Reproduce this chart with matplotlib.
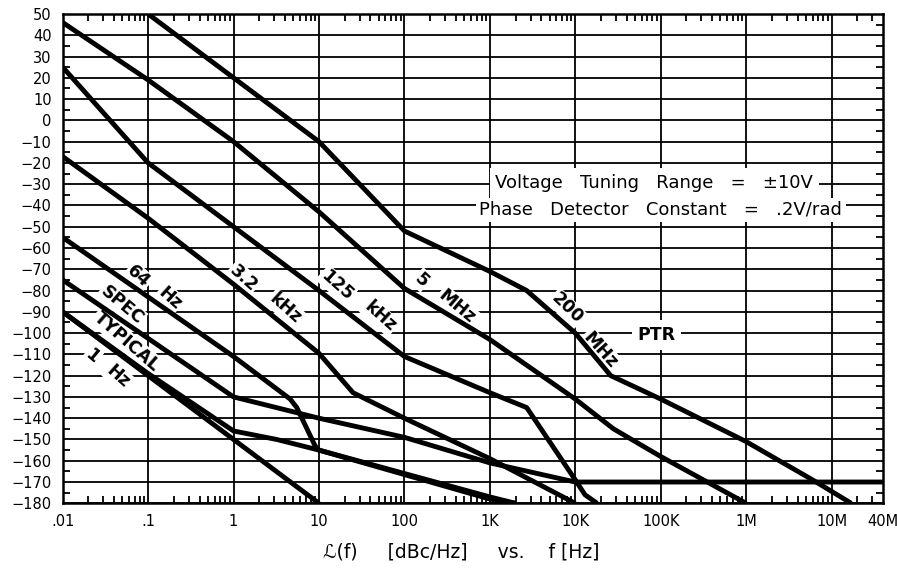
import numpy as np
import matplotlib.pyplot as plt
from matplotlib.ticker import FixedLocator, NullFormatter

# frequency offsets [Hz] and L(f) [dBc/Hz]
f_200m = [0.1, 10, 100, 1e3, 2.7e3, 1e4, 2.6e4, 1e5, 1e6, 6e6, 1.7e7]
L_200m = [50, -10, -52, -71, -80, -100, -120, -131, -151, -169, -180]

f_5m = [0.01, 0.1, 1, 10, 100, 1e3, 1e4, 2.8e4, 1e5, 1e6]
L_5m = [46, 19, -10, -43, -79, -103, -131, -145, -158, -180]

f_125k = [0.01, 0.1, 1, 10, 100, 1e3, 2.7e3, 1e4, 1.3e4, 1.8e4]
L_125k = [25, -20, -50, -80, -111, -128, -135, -169, -176, -180]

f_3k2 = [0.01, 0.1, 1, 10, 25, 100, 1e3, 1e4]
L_3k2 = [-17, -46, -77, -109.5, -128, -140, -159, -180]

f_64 = [0.01, 0.1, 1, 4.6, 5.5, 9, 10, 100, 1e3, 2e3]
L_64 = [-55, -83, -111, -131, -135, -153, -155, -166, -177, -180]

f_spec = [0.01, 1, 10, 100, 1e3, 1e4, 4e7]
L_spec = [-75, -130, -140, -149, -161, -170, -170]

f_typ = [0.01, 0.1, 1, 3.2, 10, 100, 1e3, 2e3]
L_typ = [-90, -119, -146, -150, -155, -166.5, -178, -180]

f_1hz = [0.01, 10]
L_1hz = [-90, -180]

x_ticks = [0.01, 0.1, 1, 10, 100, 1e3, 1e4, 1e5, 1e6, 1e7, 4e7]
x_labels = ['.01', '.1', '1', '10', '100', '1K', '10K', '100K', '1M', '10M', '40M']
y_ticks = list(range(-180, 51, 10))

plt.rcParams['font.family'] = 'DejaVu Sans'

fig = plt.figure(figsize=(8.97, 5.69), dpi=100)
ax = fig.add_axes([62.7 / 897, 1 - 503.3 / 569, (883 - 62.7) / 897, (503.3 - 14) / 569])

ax.set_xscale('log')
ax.set_xlim(0.01, 4e7)
ax.set_ylim(-180, 50)

# grid at decades and every 10 dB
for x in x_ticks[:-1]:
    ax.axvline(x, color='black', lw=1.3, zorder=1)
for y in y_ticks:
    ax.axhline(y, color='black', lw=1.3, zorder=1)

curves = [(f_200m, L_200m), (f_5m, L_5m), (f_125k, L_125k), (f_3k2, L_3k2),
          (f_64, L_64), (f_spec, L_spec), (f_typ, L_typ), (f_1hz, L_1hz)]
for f, L in curves:
    ax.plot(f, L, color='black', lw=3.5, solid_capstyle='butt', zorder=4)

ax.xaxis.set_major_locator(FixedLocator(x_ticks))
ax.set_xticklabels(x_labels)
minor = [m * 10.0 ** d for d in range(-2, 8) for m in range(2, 10) if m * 10.0 ** d < 4e7]
ax.xaxis.set_minor_locator(FixedLocator(minor))
ax.xaxis.set_minor_formatter(NullFormatter())
ax.set_yticks(y_ticks)
ax.yaxis.set_minor_locator(FixedLocator(np.arange(-175, 50, 10)))

ax.tick_params(which='both', direction='in', top=True, right=True, width=1.3, colors='black')
ax.tick_params(which='major', length=0, labelsize=10.5, pad=8)
ax.tick_params(which='minor', length=5)
for s in ax.spines.values():
    s.set_linewidth(1.8)

box = dict(facecolor='white', edgecolor='none', pad=1.0)
lab = dict(fontsize=12.5, fontweight='bold', ha='center', va='center', zorder=3, bbox=box)

ax.text(0.0767, -73.5, '64', rotation=-42, **lab)
ax.text(0.18, -83.6, 'Hz', rotation=-42, **lab)
ax.text(0.049, -86.8, 'SPEC', rotation=-40, **lab)
ax.text(0.056, -104, 'TYPICAL', rotation=-41, **lab)
ax.text(0.0219, -111, '1', rotation=-40, **lab)
ax.text(0.0448, -120.5, 'Hz', rotation=-42, **lab)
ax.text(1.30, -74.2, '3.2', rotation=-42, **lab)
ax.text(4.0, -88.3, 'kHz', rotation=-42, **lab)
ax.text(16.1, -77.4, '125', rotation=-42, **lab)
ax.text(51.9, -92.3, 'kHz', rotation=-42, **lab)
ax.text(160, -75, '5', rotation=-42, **lab)
ax.text(411, -87.6, 'MHz', rotation=-40, **lab)
ax.text(7980, -88.3, '200', rotation=-44, **lab)
ax.text(19500, -107.9, 'MHz', rotation=-48, **lab)
ax.text(90000, -100.9, 'PTR', fontsize=12.5, fontweight='bold', ha='center', va='center',
        zorder=3, bbox=dict(facecolor='white', edgecolor='none', pad=4))

ax.text(84000, -29.4, 'Voltage   Tuning   Range   =   \u00b110V', fontsize=13,
        ha='center', va='center', zorder=3,
        bbox=dict(facecolor='white', edgecolor='none', pad=4))
ax.text(100000, -42.1, 'Phase   Detector   Constant   =   .2V/rad', fontsize=13,
        ha='center', va='center', zorder=3,
        bbox=dict(facecolor='white', edgecolor='none', pad=2.5))

fig.text(461 / 897, 1 - 552 / 569, '\u2112(f)     [dBc/Hz]     vs.    f [Hz]', fontsize=13.5,
         ha='center', va='center')

fig.savefig('out.png', dpi=100, facecolor='white')
